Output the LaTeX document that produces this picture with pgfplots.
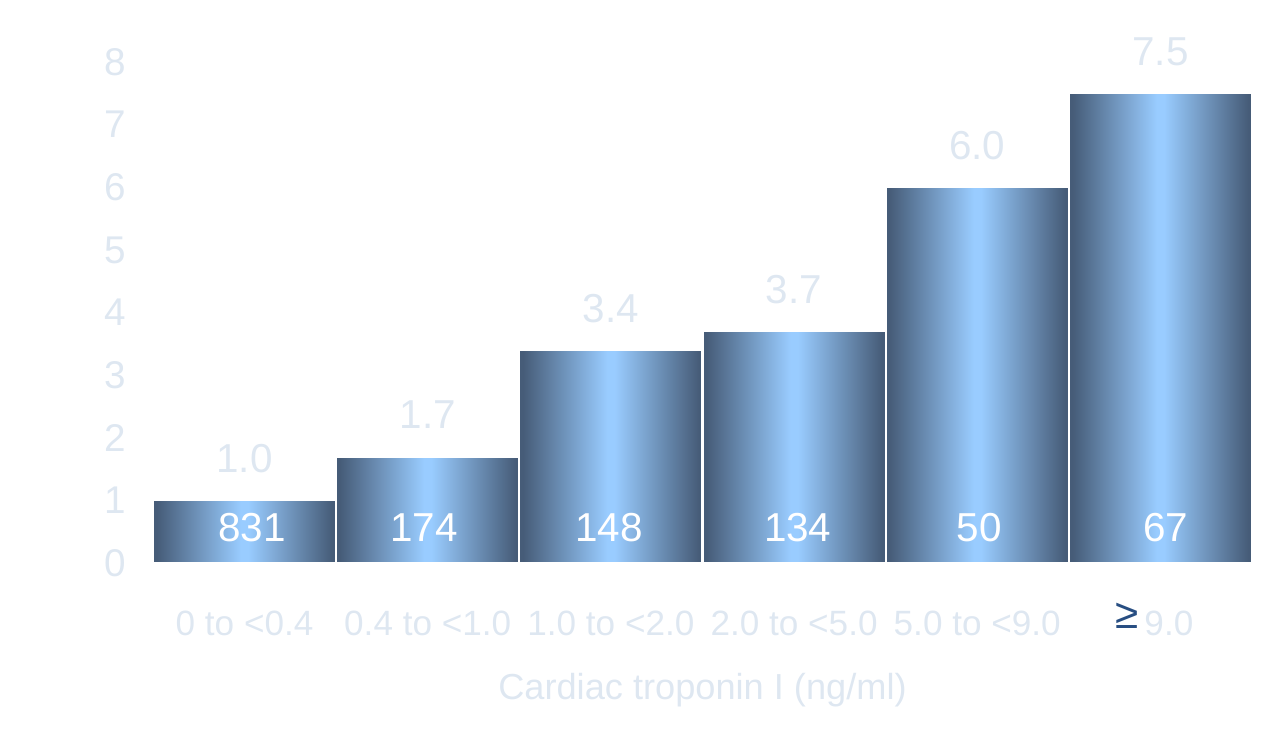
\documentclass[border=0pt]{standalone}
\usepackage{fontspec}
\setmainfont{Liberation Sans}
\usepackage{pgfplots}
\pgfplotsset{compat=1.18}
\definecolor{barDark}{RGB}{70,92,120}
\definecolor{barLight}{RGB}{153,204,255}
\definecolor{ghost}{RGB}{222,231,241}
\definecolor{geBlue}{RGB}{40,78,130}
% the path box is mapped onto 25bp..75bp of the shading
\pgfdeclarehorizontalshading{barshade}{100bp}{%
    color(0bp)=(barDark); color(26bp)=(barDark); color(49bp)=(barLight);
    color(51bp)=(barLight); color(74bp)=(barDark); color(100bp)=(barDark)}

\pgfplotsset{
    tbar/.style={ybar, bar width=1, draw=white, line width=0.6pt,
        shade, shading=barshade,
        nodes near coords={\pgfmathprintnumber[fixed, fixed zerofill, precision=1]{\pgfplotspointmeta}},
        point meta=y,
        nodes near coords style={anchor=center, yshift=0.42cm,
            font=\fontsize{11.5}{13}\selectfont, color=ghost}},
}

\begin{document}
\begin{tikzpicture}
\useasboundingbox (-1.53,-1.87) rectangle (11.22,5.63);
\begin{axis}[
    at={(0,0)}, anchor=south west,
    scale only axis,
    width=10.99cm, height=5.01cm,
    xmin=-0.5, xmax=5.5,
    ymin=0, ymax=8,
    clip=false,
    axis line style={draw=none},
    major tick length=0pt,
    xtick={0,1,2,3,4,5},
    xticklabels={0 to <0.4, 0.4 to <1.0, 1.0 to <2.0, 2.0 to <5.0, 5.0 to <9.0,
        {\hspace*{-0.12cm}\smash{\raisebox{0.07cm}{\fontsize{12}{12}\selectfont\color{geBlue}≥}}\,9.0}},
    ytick={0,1,...,8},
    /pgf/number format/assume math mode=true,
    yticklabel style={font=\fontsize{11}{13}\selectfont, color=ghost,
        anchor=center, xshift=-0.38cm},
    xticklabel style={font=\fontsize{10}{12}\selectfont, color=ghost,
        anchor=center, yshift=-0.6cm},
    xlabel={Cardiac troponin I (ng/ml)},
    xlabel style={at={(axis description cs:0.5,0)}, anchor=center,
        yshift=-1.27cm, font=\fontsize{10.3}{12}\selectfont, color=ghost},
]
% one plot per bar so each bar gets its own shading
\addplot[tbar] coordinates {(0,1.0)};
\addplot[tbar] coordinates {(1,1.7)};
\addplot[tbar] coordinates {(2,3.4)};
\addplot[tbar] coordinates {(3,3.7)};
\addplot[tbar] coordinates {(4,6.0)};
\addplot[tbar] coordinates {(5,7.5)};
% patient counts inside the bars
\addplot[draw=none, mark=none,
    nodes near coords, point meta=explicit symbolic,
    nodes near coords style={anchor=center, text=white,
        font=\fontsize{11.5}{13}\selectfont}]
    coordinates {(0.04,0.56)[831] (0.98,0.56)[174] (1.99,0.56)[148]
        (3.02,0.56)[134] (4.01,0.56)[50] (5.03,0.56)[67]};
\end{axis}
\end{tikzpicture}
\end{document}
